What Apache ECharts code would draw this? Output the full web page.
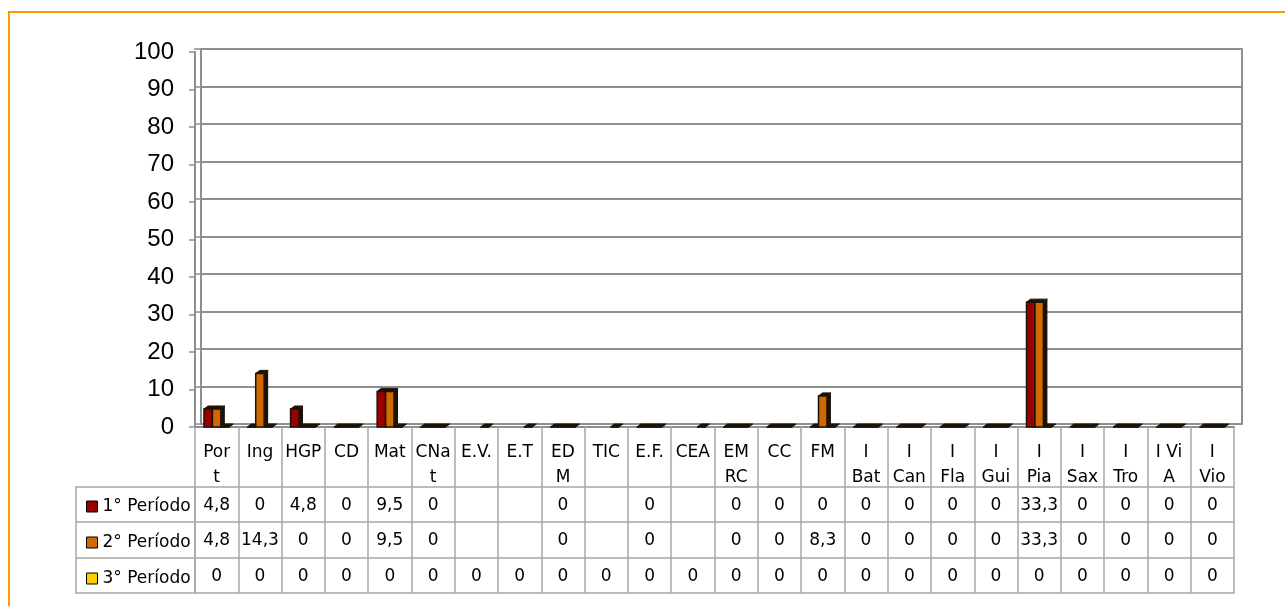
<!DOCTYPE html>
<html>
<head>
    <meta charset="utf-8">
    <title></title>
    <script type="text/javascript" src="https://cdn.jsdelivr.net/npm/echarts@6/dist/echarts.min.js"></script>
    <style>html, body { margin: 0; padding: 0; background: #fff; }</style>
</head>
<body>

<div id="main" style="width: 1285px;height:606px;"></div>
<script type="text/javascript">
    // disciplinas (eixo x) e os rótulos tal como aparecem na tabela
    var categories = ['Port', 'Ing', 'HGP', 'CD', 'Mat', 'CNat', 'E.V.', 'E.T', 'EDM', 'TIC', 'E.F.', 'CEA',
        'EMRC', 'CC', 'FM', 'I Bat', 'I Can', 'I Fla', 'I Gui', 'I Pia', 'I Sax', 'I Tro', 'I ViA', 'I Vio'];
    var headerLabels = ['Por\nt', 'Ing', 'HGP', 'CD', 'Mat', 'CNa\nt', 'E.V.', 'E.T', 'ED\nM', 'TIC', 'E.F.', 'CEA',
        'EM\nRC', 'CC', 'FM', 'I\nBat', 'I\nCan', 'I\nFla', 'I\nGui', 'I\nPia', 'I\nSax', 'I\nTro', 'I Vi\nA', 'I\nVio'];

    var seriesNames = ['1° Período', '2° Período', '3° Período'];
    var seriesColors = ['#9a0000', '#d06a00', '#ffcc00'];

    // percentagens por período (null = célula vazia)
    var periodo1 = [4.8, 0, 4.8, 0, 9.5, 0, null, null, 0, null, 0, null, 0, 0, 0, 0, 0, 0, 0, 33.3, 0, 0, 0, 0];
    var periodo2 = [4.8, 14.3, 0, 0, 9.5, 0, null, null, 0, null, 0, null, 0, 0, 8.3, 0, 0, 0, 0, 33.3, 0, 0, 0, 0];
    var periodo3 = [0, 0, 0, 0, 0, 0, 0, 0, 0, 0, 0, 0, 0, 0, 0, 0, 0, 0, 0, 0, 0, 0, 0, 0];
    var rows = [periodo1, periodo2, periodo3];

    var yTicks = [0, 10, 20, 30, 40, 50, 60, 70, 80, 90, 100];

    var tableFont = 'DejaVu Sans';
    var gridGray = '#8e8e8e';
    var tableGray = '#a8a8a8';

    function fmt(v) {
        if (v == null) return '';
        return String(v).replace('.', ',');
    }

    // colunas com efeito 3D (frente, topo e lado)
    function bar3d(k) {
        return function (params, api) {
            var v = api.value(1);
            if (v == null || isNaN(v)) return;
            var i = api.value(0);
            var band = api.size([1, 0])[0];
            var w = band * 0.195;
            var base = api.coord([i, 0]);
            var top = api.coord([i, v]);
            var x0 = base[0] - 1.5 * w + k * w;
            var yb = base[1], yt = top[1];
            var dx = 4, dy = 3;
            var dark = '#1c1206';
            return {
                type: 'group',
                children: [
                    {type: 'polygon', shape: {points: [[x0 + w, yt], [x0 + w + dx, yt - dy], [x0 + w + dx, yb - dy], [x0 + w, yb]]}, style: {fill: dark}},
                    {type: 'polygon', shape: {points: [[x0, yt], [x0 + w, yt], [x0 + w + dx, yt - dy], [x0 + dx, yt - dy]]}, style: {fill: dark, stroke: dark, lineWidth: 1}},
                    {type: 'rect', shape: {x: x0, y: yt, width: w, height: yb - yt}, style: {fill: api.visual('color'), stroke: dark, lineWidth: 1.5}}
                ]
            };
        };
    }

    // linhas da tabela de dados como eixos x deslocados
    var rowOffsets = [60, 95, 131];
    var rowHeights = [35, 36, 35];

    var xAxes = [{
        type: 'category',
        gridIndex: 0,
        data: categories,
        position: 'bottom',
        axisLine: {show: true, lineStyle: {color: gridGray, width: 2}},
        axisTick: {show: true, interval: 0, length: 60, lineStyle: {color: tableGray, width: 1.5}},
        axisLabel: {
            interval: 0, margin: 13, verticalAlign: 'top', lineHeight: 25,
            fontFamily: tableFont, fontSize: 17, color: '#000',
            formatter: function (val, idx) { return headerLabels[idx]; }
        }
    }];
    rows.forEach(function (row, r) {
        xAxes.push({
            type: 'category',
            gridIndex: 0,
            data: categories,
            position: 'bottom',
            offset: rowOffsets[r],
            axisLine: {show: true, lineStyle: {color: tableGray, width: 1.5}},
            axisTick: {show: true, interval: 0, length: rowHeights[r], lineStyle: {color: tableGray, width: 1.5}},
            axisLabel: {
                interval: 0, margin: 19, verticalAlign: 'middle',
                fontFamily: tableFont, fontSize: 17, color: '#000',
                formatter: function (val, idx) { return fmt(row[idx]); }
            }
        });
    });
    // linha inferior da tabela
    xAxes.push({
        type: 'category', gridIndex: 0, data: categories, position: 'bottom', offset: 166,
        axisLine: {show: true, lineStyle: {color: tableGray, width: 1.5}},
        axisTick: {show: false}, axisLabel: {show: false}
    });
    // parede do fundo
    xAxes.push({type: 'category', gridIndex: 1, data: categories, show: false});

    var series = seriesNames.map(function (name, k) {
        return {
            name: name,
            type: 'custom',
            xAxisIndex: 0,
            yAxisIndex: 0,
            itemStyle: {color: seriesColors[k]},
            renderItem: bar3d(k),
            encode: {x: 0, y: 1},
            data: rows[k].map(function (v, i) { return [i, v]; }),
            z: 5
        };
    });

    var myChart = echarts.init(document.getElementById('main'));

    var option = {
        animation: false,
        backgroundColor: '#fff',
        grid: [
            {left: 195, right: 51, top: 52, bottom: 179},
            {left: 201, right: 43, top: 49, bottom: 182}
        ],
        xAxis: xAxes,
        yAxis: [{
            type: 'value', gridIndex: 0, min: 0, max: 100, interval: 10,
            axisLine: {show: true, lineStyle: {color: gridGray, width: 2}},
            axisTick: {show: true, length: 6, lineStyle: {color: gridGray, width: 1.5}},
            splitLine: {show: false},
            axisLabel: {
                margin: 21, fontFamily: 'Liberation Sans', fontSize: 24, color: '#000',
                formatter: function (v) { return yTicks.indexOf(v) >= 0 ? String(v) : ''; }
            }
        }, {
            type: 'value', gridIndex: 1, min: 0, max: 100, interval: 10,
            axisLine: {show: true, lineStyle: {color: gridGray, width: 2}},
            axisTick: {show: true, length: 7, lineStyle: {color: gridGray, width: 1.5}},
            axisLabel: {show: false},
            splitLine: {show: true, lineStyle: {color: gridGray, width: 2}}
        }, {
            type: 'value', gridIndex: 1, min: 0, max: 100, interval: 10, position: 'right',
            axisLine: {show: true, lineStyle: {color: gridGray, width: 2}},
            axisTick: {show: false}, axisLabel: {show: false}, splitLine: {show: false}
        }],
        legend: {
            orient: 'vertical',
            left: 81,
            top: 493,
            itemWidth: 11,
            itemHeight: 11,
            itemGap: 19,
            icon: 'rect',
            selectedMode: false,
            itemStyle: {borderColor: '#000', borderWidth: 1},
            textStyle: {fontFamily: tableFont, fontSize: 17, color: '#000', lineHeight: 16},
            data: seriesNames
        },
        graphic: [
            {type: 'rect', shape: {x: 9, y: 12, width: 1320, height: 640}, style: {fill: 'none', stroke: '#ff9900', lineWidth: 2}, silent: true},
            {type: 'rect', shape: {x: 76, y: 487, width: 119, height: 106}, style: {fill: 'none', stroke: tableGray, lineWidth: 1.5}, silent: true},
            {type: 'line', shape: {x1: 76, y1: 522, x2: 195, y2: 522}, style: {stroke: tableGray, lineWidth: 1.5}, silent: true},
            {type: 'line', shape: {x1: 76, y1: 558, x2: 195, y2: 558}, style: {stroke: tableGray, lineWidth: 1.5}, silent: true}
        ],
        series: series
    };

    myChart.setOption(option);
</script>

</body>
</html>
